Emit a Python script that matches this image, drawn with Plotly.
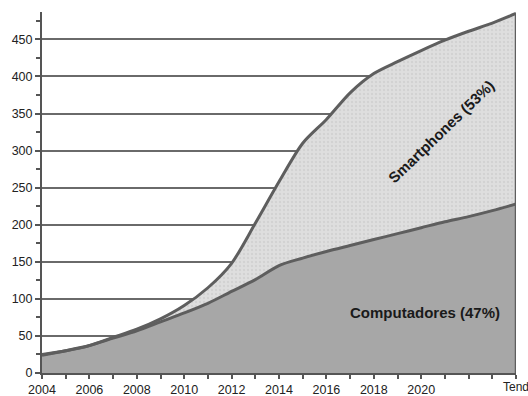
import plotly.graph_objects as go

years = list(range(2004, 2025))
computadores = [24, 30, 37, 47, 57, 69, 81, 94, 110, 126, 145, 155, 164, 172, 180, 188, 196, 204, 211, 219, 228]
smartphones = [1, 0, 0, 1, 2, 4, 10, 21, 38, 76, 113, 155, 178, 206, 224, 232, 239, 245, 250, 253, 257]
total = [c + s for c, s in zip(computadores, smartphones)]

x_tick_vals = years
x_tick_text = [str(y) if (y % 2 == 0 and y <= 2020) else "" for y in years]
end_label = "Tendência"
label_comp = "Computadores (47%)"
label_smart = "Smartphones (53%)"

line_col = "#5e5e5e"
font_fam = "Liberation Sans, Arial, sans-serif"

fig = go.Figure()
fig.add_trace(go.Scatter(
    x=years, y=computadores, mode="lines", stackgroup="one",
    line=dict(color=line_col, width=3, shape="spline", smoothing=0.8),
    fillcolor="#a7a7a7", hoverinfo="skip", showlegend=False,
))
fig.add_trace(go.Scatter(
    x=years, y=smartphones, mode="lines", stackgroup="one",
    line=dict(color=line_col, width=3, shape="spline", smoothing=0.8),
    fillcolor="#dcdcdc",
    fillpattern=dict(shape=".", bgcolor="#dedede", fgcolor="#c6c6c6", size=4, solidity=0.3),
    hoverinfo="skip", showlegend=False,
))
# right edge outline of the stacked area
fig.add_trace(go.Scatter(
    x=[years[-1], years[-1]], y=[0, total[-1]], mode="lines",
    line=dict(color=line_col, width=2.5), hoverinfo="skip", showlegend=False,
))

fig.add_annotation(x=2020.18, y=82, text="<b>" + label_comp + "</b>", showarrow=False,
                   font=dict(family=font_fam, size=15, color="#1a1a1a"))
fig.add_annotation(x=2020.84, y=326, text="<b>" + label_smart + "</b>", showarrow=False,
                   textangle=-44, font=dict(family=font_fam, size=15, color="#1a1a1a"))
fig.add_annotation(x=years[-1], y=0, yref="y", xref="x", text=end_label, showarrow=False,
                   xanchor="left", yanchor="top", xshift=-15, yshift=-5,
                   font=dict(family=font_fam, size=12, color="#222222"))

fig.update_layout(
    width=528, height=396,
    margin=dict(l=42, r=12, t=12, b=23),
    paper_bgcolor="white", plot_bgcolor="white",
    font=dict(family=font_fam, size=12, color="#222222"),
)
fig.update_xaxes(
    range=[2004, 2024], tickmode="array", tickvals=x_tick_vals, ticktext=x_tick_text,
    ticks="outside", ticklen=4, tickcolor="#555555", tickwidth=1.5,
    showline=True, linecolor="#555555", linewidth=2, showgrid=False, zeroline=False,
    tickfont=dict(size=12.5, color="#222222"), automargin=False,
)
fig.update_yaxes(
    range=[0, 487], dtick=50, tick0=0,
    ticks="outside", ticklen=5, tickcolor="#555555", tickwidth=1.5,
    minor=dict(dtick=25, ticks="outside", ticklen=4, tickcolor="#555555", showgrid=False),
    showline=True, linecolor="#555555", linewidth=2,
    showgrid=True, gridcolor="#6a6a6a", gridwidth=1.5, zeroline=False,
    tickfont=dict(size=12.5, color="#222222"), automargin=False,
)

fig.write_html("out.html")
